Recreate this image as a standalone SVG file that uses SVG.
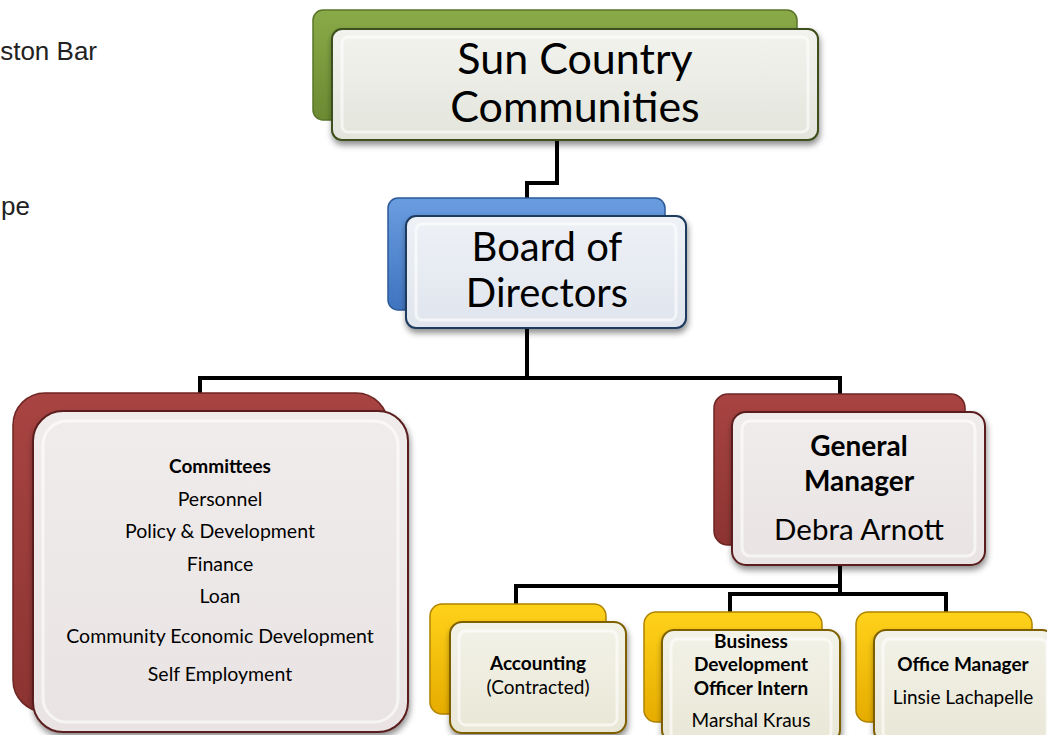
<svg xmlns="http://www.w3.org/2000/svg" width="1047" height="735" viewBox="0 0 1047 735">
<style>
.t{font-family:Lato,"Open Sans",sans-serif;fill:#000;text-anchor:middle}
.b{font-weight:bold}
.conn{fill:none;stroke:#000;stroke-width:4}
.side{font-family:"Liberation Sans",Arial,sans-serif;font-size:26px;fill:#222}
</style>
<defs>
<filter id="sh" x="-10%" y="-10%" width="125%" height="130%">
<feDropShadow dx="1" dy="4" stdDeviation="3" flood-color="#000" flood-opacity="0.45"/>
</filter>
<linearGradient id="gG" x1="0" y1="0" x2="0" y2="1"><stop offset="0" stop-color="#8aaa48"/><stop offset="1" stop-color="#6b8a32"/></linearGradient>
<linearGradient id="gB" x1="0" y1="0" x2="0" y2="1"><stop offset="0" stop-color="#6a9de0"/><stop offset="1" stop-color="#3f74bf"/></linearGradient>
<linearGradient id="gR" x1="0" y1="0" x2="0" y2="1"><stop offset="0" stop-color="#a84442"/><stop offset="1" stop-color="#8c3432"/></linearGradient>
<linearGradient id="gY" x1="0" y1="0" x2="0" y2="1"><stop offset="0" stop-color="#ffd21a"/><stop offset="1" stop-color="#e6ac00"/></linearGradient>
<linearGradient id="fG" x1="0" y1="0" x2="0" y2="1"><stop offset="0" stop-color="#f2f3ee"/><stop offset="1" stop-color="#e3e5dc"/></linearGradient>
<linearGradient id="fB" x1="0" y1="0" x2="0" y2="1"><stop offset="0" stop-color="#eef1f6"/><stop offset="1" stop-color="#e0e5ee"/></linearGradient>
<linearGradient id="fR" x1="0" y1="0" x2="0" y2="1"><stop offset="0" stop-color="#f0ecec"/><stop offset="1" stop-color="#e9e4e3"/></linearGradient>
<linearGradient id="fY" x1="0" y1="0" x2="0" y2="1"><stop offset="0" stop-color="#f3f2e8"/><stop offset="1" stop-color="#e9e7d6"/></linearGradient>
</defs>
<rect width="1047" height="735" fill="#fff"/>
<text class="side" x="97" y="60" text-anchor="end">ston Bar</text>
<text class="side" x="30" y="215" text-anchor="end">pe</text>

<g id="connectors">
<polyline class="conn" points="557,140 557,183 527,183 527,200"/>
<polyline class="conn" points="527,328 527,378"/>
<polyline class="conn" points="200,395 200,378 840,378 840,395"/>
<polyline class="conn" points="840,565 840,594"/>
<polyline class="conn" points="516,606 516,586 840,586"/>
<polyline class="conn" points="730,614 730,594 946,594 946,614"/>
</g>

<g id="sun-country">
<rect x="313" y="10" width="484" height="110" rx="10" fill="url(#gG)" stroke="#5a7528" stroke-width="1.5"/>
<rect x="332" y="29" width="486" height="111" rx="10" fill="url(#fG)" stroke="#3d4f1c" stroke-width="2" filter="url(#sh)"/>
<rect x="342" y="37" width="466" height="95" rx="6" fill="none" stroke="#fff" stroke-opacity="0.6" stroke-width="3"/>
<text class="t" x="575" y="74" font-size="43">Sun Country</text>
<text class="t" x="575" y="122" font-size="43">Communities</text>
</g>

<g id="board">
<rect x="388" y="198" width="277" height="112" rx="10" fill="url(#gB)" stroke="#2c5a99" stroke-width="1.5"/>
<rect x="406" y="216" width="280" height="112" rx="10" fill="url(#fB)" stroke="#1f3a5f" stroke-width="2" filter="url(#sh)"/>
<rect x="416" y="224" width="260" height="96" rx="6" fill="none" stroke="#fff" stroke-opacity="0.6" stroke-width="3"/>
<text class="t" x="547" y="261" font-size="40">Board of</text>
<text class="t" x="547" y="307" font-size="40">Directors</text>
</g>

<g id="committees">
<rect x="13" y="393" width="375" height="319" rx="32" fill="url(#gR)" stroke="#6e2523" stroke-width="1.5"/>
<rect x="33" y="411" width="375" height="321" rx="30" fill="url(#fR)" stroke="#5a1f1d" stroke-width="2" filter="url(#sh)"/>
<rect x="43" y="421" width="355" height="301" rx="24" fill="none" stroke="#fff" stroke-opacity="0.6" stroke-width="3"/>
<text class="t b" x="220" y="473" font-size="19">Committees</text>
<text class="t" x="220" y="506" font-size="19.5">Personnel</text>
<text class="t" x="220" y="538" font-size="19.5">Policy &amp; Development</text>
<text class="t" x="220" y="571" font-size="19.5">Finance</text>
<text class="t" x="220" y="603" font-size="19.5">Loan</text>
<text class="t" x="220" y="643" font-size="19.5">Community Economic  Development</text>
<text class="t" x="220" y="681" font-size="19.5">Self Employment</text>
</g>

<g id="general-manager">
<rect x="714" y="394" width="251" height="151" rx="14" fill="url(#gR)" stroke="#6e2523" stroke-width="1.5"/>
<rect x="732" y="412" width="253" height="153" rx="14" fill="url(#fR)" stroke="#5a1f1d" stroke-width="2" filter="url(#sh)"/>
<rect x="742" y="421" width="233" height="135" rx="8" fill="none" stroke="#fff" stroke-opacity="0.6" stroke-width="3"/>
<text class="t b" x="859" y="456" font-size="28">General</text>
<text class="t b" x="859" y="491" font-size="28">Manager</text>
<text class="t" x="859" y="540" font-size="29.5">Debra Arnott</text>
</g>

<g id="accounting">
<rect x="430" y="604" width="176" height="110" rx="12" fill="url(#gY)" stroke="#b08300" stroke-width="1.5"/>
<rect x="450" y="622" width="176" height="111" rx="12" fill="url(#fY)" stroke="#7f6000" stroke-width="2" filter="url(#sh)"/>
<rect x="459" y="631" width="158" height="94" rx="7" fill="none" stroke="#fff" stroke-opacity="0.6" stroke-width="3"/>
<text class="t b" x="538" y="670" font-size="19">Accounting</text>
<text class="t" x="538" y="694" font-size="19">(Contracted)</text>
</g>

<g id="business-development">
<rect x="644" y="612" width="178" height="110" rx="12" fill="url(#gY)" stroke="#b08300" stroke-width="1.5"/>
<rect x="662" y="630" width="178" height="112" rx="12" fill="url(#fY)" stroke="#7f6000" stroke-width="2" filter="url(#sh)"/>
<rect x="671" y="639" width="160" height="100" rx="7" fill="none" stroke="#fff" stroke-opacity="0.6" stroke-width="3"/>
<text class="t b" x="751" y="648" font-size="19">Business</text>
<text class="t b" x="751" y="671" font-size="19">Development</text>
<text class="t b" x="751" y="695" font-size="19">Officer Intern</text>
<text class="t" x="751" y="727" font-size="19">Marshal Kraus</text>
</g>

<g id="office-manager">
<rect x="856" y="612" width="176" height="110" rx="12" fill="url(#gY)" stroke="#b08300" stroke-width="1.5"/>
<rect x="874" y="630" width="180" height="112" rx="12" fill="url(#fY)" stroke="#7f6000" stroke-width="2" filter="url(#sh)"/>
<rect x="883" y="639" width="164" height="100" rx="7" fill="none" stroke="#fff" stroke-opacity="0.6" stroke-width="3"/>
<text class="t b" x="963" y="671" font-size="19">Office Manager</text>
<text class="t" x="963" y="704" font-size="19">Linsie Lachapelle</text>
</g>
</svg>
